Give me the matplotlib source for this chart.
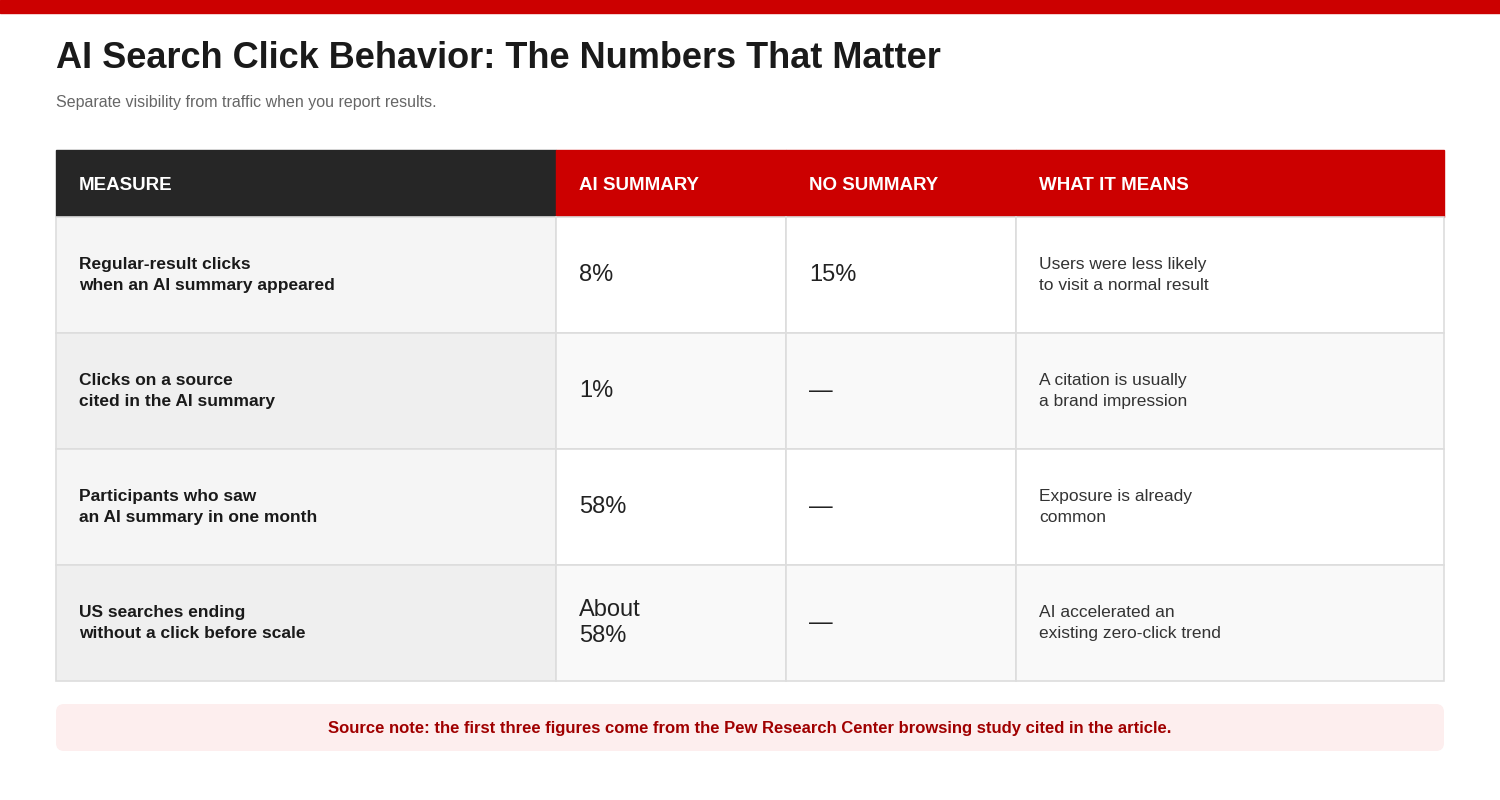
import matplotlib
matplotlib.use("Agg")
import matplotlib.pyplot as plt
from matplotlib.patches import Rectangle, FancyBboxPatch

plt.rcParams['font.family'] = ['Liberation Sans', 'DejaVu Sans']

title = "AI Search Click Behavior: The Numbers That Matter"
subtitle = "Separate visibility from traffic when you report results."
headers = ["MEASURE", "AI SUMMARY", "NO SUMMARY", "WHAT IT MEANS"]
measures = ["Regular-result clicks\nwhen an AI summary appeared",
            "Clicks on a source\ncited in the AI summary",
            "Participants who saw\nan AI summary in one month",
            "US searches ending\nwithout a click before scale"]
ai_summary = ["8%", "1%", "58%", "About\n58%"]
no_summary = ["15%", "\u2014", "\u2014", "\u2014"]
meanings = ["Users were less likely\nto visit a normal result",
            "A citation is usually\na brand impression",
            "Exposure is already\ncommon",
            "AI accelerated an\nexisting zero-click trend"]
note = "Source note: the first three figures come from the Pew Research Center browsing study cited in the article."

W, H = 1500, 800
fig = plt.figure(figsize=(15, 8), dpi=100)
ax = fig.add_axes([0, 0, 1, 1])
ax.set_xlim(0, W)
ax.set_ylim(H, 0)
ax.axis('off')

RED = '#cc0000'
ax.add_patch(Rectangle((0, 0), W, 13, color=RED))
ax.text(56, 58, title, fontsize=26, fontweight='bold', color='#1a1a1a', va='center')
ax.text(56, 102, subtitle, fontsize=11.5, color='#666666', va='center')

cols = [56, 556, 786, 1016, 1444]
top, hh, rh = 150, 67, 116

for i, h in enumerate(headers):
    ax.add_patch(Rectangle((cols[i], top), cols[i + 1] - cols[i], hh,
                           color='#262626' if i == 0 else RED))
    ax.text(cols[i] + 23, top + hh / 2 + 2, h, fontsize=13.5, fontweight='bold',
            color='white', va='center')

for r in range(len(measures)):
    y0 = top + hh + r * rh
    first_bg = '#f5f5f5' if r % 2 == 0 else '#efefef'
    other_bg = 'white' if r % 2 == 0 else '#f9f9f9'
    for c in range(4):
        ax.add_patch(Rectangle((cols[c], y0), cols[c + 1] - cols[c], rh,
                               facecolor=first_bg if c == 0 else other_bg,
                               edgecolor='#dddddd', lw=1.2))
    yc = y0 + rh / 2
    ax.text(cols[0] + 23, yc, measures[r], fontsize=12.5, fontweight='bold',
            color='#1a1a1a', va='center', linespacing=1.5)
    ax.text(cols[1] + 23, yc, ai_summary[r], fontsize=17, color='#222222',
            va='center', linespacing=1.2)
    ax.text(cols[2] + 23, yc, no_summary[r], fontsize=17, color='#222222', va='center')
    ax.text(cols[3] + 23, yc, meanings[r], fontsize=12.5, color='#333333',
            va='center', linespacing=1.5)

ax.add_patch(FancyBboxPatch((56, 704), 1388, 47, boxstyle="round,pad=0,rounding_size=8",
                            facecolor='#fdeeee', edgecolor='none'))
ax.text(750, 728, note, fontsize=12, fontweight='bold', color='#a00000',
        ha='center', va='center')

fig.savefig("out.png", dpi=100, facecolor='white')
